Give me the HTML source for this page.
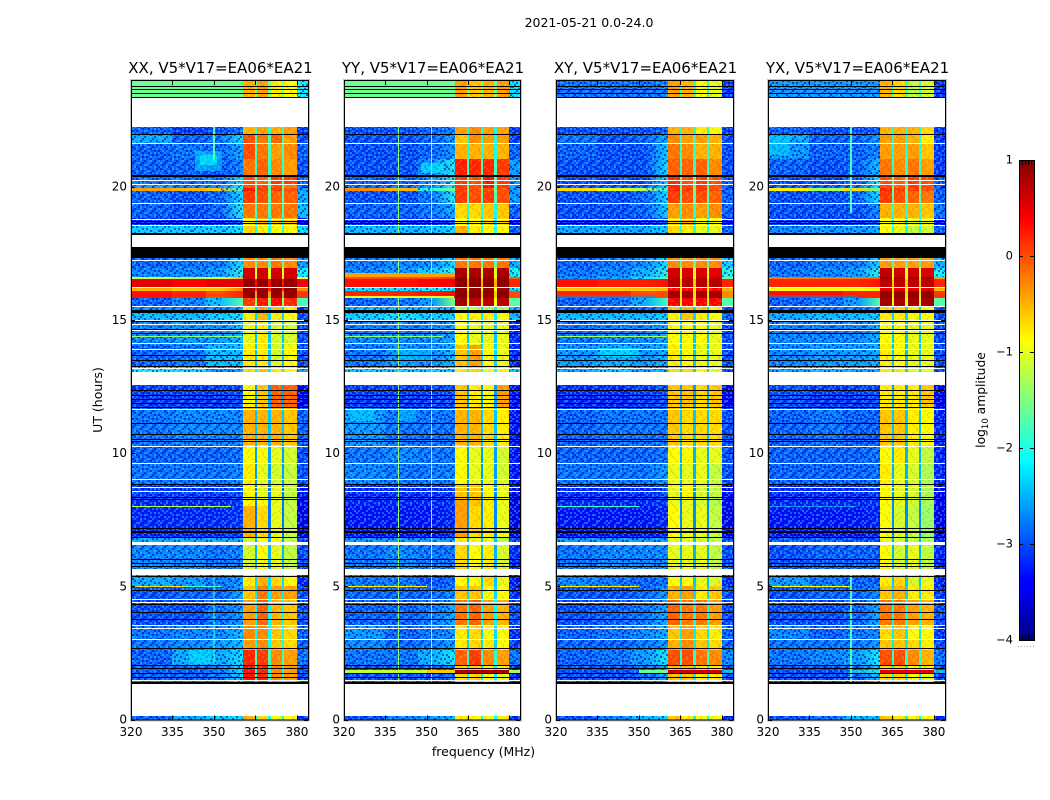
<!DOCTYPE html>
<html lang="en">
<head>
<meta charset="utf-8">
<title>2021-05-21 0.0-24.0</title>
<style>
html,body{margin:0;padding:0;background:#fff}
svg{display:block}
text{font-family:"DejaVu Sans","Liberation Sans",sans-serif;fill:#000}
</style>
</head>
<body>
<svg id="chart" xmlns="http://www.w3.org/2000/svg" width="1050" height="800" viewBox="0 0 1050 800">
<defs id="defs">
<pattern id="speckle" width="32" height="24" patternUnits="userSpaceOnUse"></pattern>
<pattern id="band-texture" width="24" height="16" patternUnits="userSpaceOnUse"></pattern>
<linearGradient id="jet-gradient" x1="0" y1="1" x2="0" y2="0">
<stop offset="0" stop-color="#000080"/><stop offset=".11" stop-color="#0000ff"/><stop offset=".125" stop-color="#0000ff"/>
<stop offset=".375" stop-color="#00ffff"/><stop offset=".625" stop-color="#ffff00"/><stop offset=".875" stop-color="#ff0000"/><stop offset="1" stop-color="#800000"/>
</linearGradient>
</defs>
<text x="589" y="27" font-size="12.5" text-anchor="middle">2021-05-21 0.0-24.0</text>
<text x="483.5" y="756" font-size="12.5" text-anchor="middle">frequency (MHz)</text>
<text font-size="12.5" text-anchor="middle" transform="translate(102,400) rotate(-90)">UT (hours)</text>
<g id="panels"></g>
<g id="colorbar">
<rect x="1019" y="160" width="15" height="480" fill="url(#jet-gradient)"/>
</g>
<text font-size="12.3" text-anchor="middle" transform="translate(985,400) rotate(-90)">log<tspan font-size="8.5" dy="3">10</tspan><tspan dy="-3"> amplitude</tspan></text>
</svg>
<script>
/* UT bin edges (hours) */
var timeEdges = [24,23.34,22.22,21.99,21.65,21.05,20.45,20.08,19.93,19.82,19.37,18.81,18.51,18.24,17.75,17.32,16.93,16.59,16.52,16.25,16.10,15.80,15.50,15.28,14.98,14.04,13.25,13.03,12.54,11.68,10.29,9.62,8.79,8.23,8.0,6.84,6.54,5.64,5.42,5.0,4.48,3.54,2.98,2.6,2.0,1.37,0.13,0];
/* frequency bin edges (MHz) */
var freqEdges = [320,335,347,352.5,360.5,364.7,365.5,369.7,370.5,374.7,375.5,380,384];
/* which value of a row feeds each frequency bin */
var columnSource = [0,1,2,3,4,9,5,9,6,9,7,8];
var G = null, Z = "zero";
/* log10 amplitude per row: low1, low2, low3, transition, band1..band4, edge, notch */
var xxRows = [
[-1.6,-1.6,-1.6,-1.6,-0.5,-0.4,-0.8,-0.9,-2.1,-1.5],G,
[-2.9,-3.1,-3.0,-2.8,-0.5,-0.4,-0.5,-0.4,-3.1,-1.9],
[-2.5,-2.9,-2.8,-2.2,0.0,-0.2,-0.1,-0.4,-3.0,-1.8],
[-2.9,-2.8,-2.9,-2.5,0.0,-0.2,-0.4,-0.3,-2.9,-1.8],
[-2.9,-2.9,-3.0,-2.7,-0.2,-0.1,-0.3,-0.4,-3.0,-1.9],
[-2.8,-2.8,-2.8,-2.2,0.0,-0.1,0.1,0.1,-2.9,-1.7],
[-2.6,-2.8,-2.7,-2.1,0.0,0.0,0.0,-0.2,-2.9,-1.7],
[-0.4,-0.5,-0.6,-1.9,0.3,0.1,0.1,0.0,-2.6,-1.6],
[-2.9,-3.0,-2.9,-2.2,0.1,0.0,-0.1,-0.1,-2.5,-1.7],
[-2.9,-3.0,-2.9,-2.0,-0.2,-0.2,-0.2,-0.2,-2.4,-1.8],
[-3.2,-3.2,-3.2,-2.8,-0.8,-0.5,-0.6,-0.6,-3.4,-2.3],
[-2.3,-2.3,-2.3,-2.2,-0.7,-0.8,-0.9,-0.9,-2.2,-2.0],G,Z,
[-2.9,-2.8,-2.8,-2.2,-0.3,-0.3,-0.2,-0.3,-2.6,-1.7],
[-2.7,-2.7,-2.6,-1.9,0.6,0.6,0.6,0.6,-2.1,-1.0],
[-1.1,-1.3,-1.0,-0.5,0.6,0.6,0.6,0.6,-0.9,-0.8],
[0.5,0.4,0.5,0.5,0.9,0.9,0.9,0.9,0.4,0.3],
[-0.5,-0.6,-0.6,-0.2,0.9,0.9,0.9,0.9,-0.3,0.2],
[0.3,0.2,0.0,0.2,0.9,0.9,0.9,0.9,0.1,-0.4],
[-2.9,-2.7,-2.4,-1.7,0.1,0.3,0.4,0.2,-1.8,-1.4],
[-2.7,-2.8,-2.7,-2.6,-0.8,-0.4,-0.6,-0.8,-3.2,-2.3],
[-2.4,-2.4,-2.3,-2.2,-0.8,-0.5,-0.8,-0.9,-3.0,-2.3],
[-2.7,-2.6,-2.6,-2.4,-1.0,-0.8,-1.1,-1.1,-3.0,-2.4],
[-2.9,-2.8,-2.4,-2.4,-0.8,-0.8,-1.1,-0.9,-3.0,-2.4],
[-2.1,-2.2,-2.6,-2.6,-0.7,-0.6,-0.8,-0.9,-2.6,-2.2],G,
[-3.1,-3.1,-3.1,-3.0,-0.9,-0.6,-0.1,-0.1,-3.4,-2.6],
[-2.8,-2.7,-2.7,-2.7,-0.5,-0.5,-0.5,-0.6,-2.9,-2.4],
[-2.9,-2.9,-2.9,-2.8,-0.9,-0.9,-1.0,-1.1,-3.0,-2.6],
[-2.8,-2.8,-2.8,-2.7,-0.8,-1.0,-1.1,-1.2,-3.0,-2.6],
[-3.1,-3.1,-3.1,-3.0,-0.9,-1.0,-1.0,-1.2,-3.3,-2.8],
[-3.2,-3.2,-3.2,-3.1,-0.9,-0.9,-1.0,-1.2,-3.4,-2.8],
[-3.2,-3.2,-3.2,-3.1,-0.5,-0.7,-1.0,-1.2,-3.5,-2.8],
[-2.5,-2.5,-2.5,-2.5,-1.1,-0.9,-0.9,-1.2,-3.0,-2.5],
[-2.7,-2.7,-2.8,-2.7,-1.1,-0.9,-1.0,-1.2,-3.0,-2.5],G,
[-2.5,-2.6,-2.8,-2.6,-0.8,-0.5,-0.7,-0.9,-3.2,-2.3],
[-3.0,-2.9,-2.9,-2.5,-0.6,-0.2,-0.4,-0.4,-3.0,-2.2],
[-3.0,-3.0,-2.8,-2.6,-0.4,-0.1,-0.5,-0.6,-3.0,-2.1],
[-2.8,-2.7,-2.7,-2.4,-0.3,-0.3,-0.6,-0.7,-2.9,-2.1],
[-2.8,-2.7,-2.6,-2.4,-0.4,-0.3,-0.6,-0.7,-2.9,-2.1],
[-2.9,-2.5,-2.5,-2.2,0.2,0.1,-0.3,-0.4,-2.8,-1.8],
[-2.9,-2.9,-2.8,-2.2,0.3,0.2,-0.3,-0.4,-3.0,-2.0],G,
[-2.9,-2.5,-2.3,-2.2,-0.5,-0.7,-0.9,-0.9,-3.2,-2.0]];
var yyRows = [
[-1.6,-1.6,-1.6,-1.6,-0.4,-0.6,-0.5,-0.4,-2.2,-1.5],G,
[-3.0,-3.0,-2.9,-2.7,-0.4,-0.3,-0.4,-0.4,-3.1,-2.0],
[-3.0,-3.0,-2.9,-2.6,-0.6,-0.3,-0.4,-0.4,-3.1,-2.0],
[-3.0,-3.0,-2.9,-2.6,-0.5,-0.5,-0.5,-0.5,-2.9,-2.0],
[-3.0,-3.0,-2.7,-2.0,0.25,0.2,0.2,0.1,-2.6,-1.8],
[-2.9,-2.9,-2.7,-1.9,0.1,0.0,0.3,0.1,-2.6,-1.7],
[-2.9,-2.9,-2.7,-1.9,0.1,0.0,0.3,0.1,-2.6,-1.7],
[-0.3,-0.5,-1.9,-1.6,0.1,0.0,0.0,0.0,-2.6,-1.6],
[-3.0,-3.0,-2.8,-2.0,0.1,0.0,0.1,0.0,-2.6,-1.7],
[-2.9,-2.9,-2.8,-2.5,-0.7,-0.7,-0.6,-0.6,-2.9,-2.0],
[-3.2,-3.2,-3.2,-3.0,-0.9,-0.8,-0.7,-0.7,-3.4,-2.4],
[-2.4,-2.4,-2.4,-2.2,-0.5,-0.8,-0.9,-0.9,-2.9,-2.0],G,Z,
[-2.8,-2.7,-2.7,-2.2,-0.2,-0.2,-0.2,-0.2,-2.5,-1.7],
[-2.7,-2.6,-2.3,-1.9,0.8,0.8,0.8,0.8,-2.0,-1.0],
[0.0,0.0,0.0,0.1,0.9,0.9,0.9,0.9,-0.1,-0.8],
[0.3,0.3,0.35,0.4,0.95,0.95,0.95,0.95,0.2,-0.5],
[-2.2,-2.2,-2.1,-2.1,0.9,0.9,0.9,0.9,-2.2,-0.9],
[0.2,0.2,0.25,0.3,0.95,0.95,0.95,0.95,0.0,-0.6],
[-2.9,-2.8,-2.6,-1.5,0.8,0.7,0.7,0.7,-1.7,-0.9],
[-2.4,-2.4,-2.4,-2.4,-1.2,-1.2,-1.3,-1.3,-2.4,-2.2],
[-2.3,-2.2,-2.3,-2.3,-0.9,-0.8,-0.8,-0.9,-2.4,-2.2],
[-2.7,-2.7,-2.7,-2.5,-0.9,-1.0,-1.0,-1.0,-3.2,-2.4],
[-2.8,-2.6,-2.7,-2.4,-0.6,-0.4,-0.9,-1.0,-3.2,-2.3],
[-2.3,-2.3,-2.3,-2.3,-0.8,-0.7,-0.9,-0.9,-2.3,-2.1],G,
[-3.1,-3.1,-3.1,-3.0,-0.6,-0.8,-0.9,-0.4,-3.3,-2.6],
[-2.6,-2.8,-2.8,-2.8,-0.5,-0.5,-0.7,-0.8,-3.3,-2.4],
[-2.8,-2.7,-2.8,-2.8,-0.9,-1.0,-1.0,-1.1,-3.3,-2.6],
[-2.7,-2.8,-2.8,-2.7,-0.9,-1.0,-1.0,-1.1,-3.3,-2.6],
[-3.2,-3.2,-3.2,-3.1,-0.6,-0.6,-0.9,-1.0,-3.5,-2.7],
[-3.2,-3.2,-3.2,-3.1,-0.4,-0.6,-0.8,-1.0,-3.5,-2.7],
[-3.3,-3.3,-3.3,-3.2,-0.4,-0.7,-0.8,-1.0,-3.5,-2.7],
[-2.6,-2.6,-2.6,-2.6,-0.8,-1.0,-1.0,-1.2,-3.0,-2.4],
[-2.8,-2.7,-2.8,-2.8,-0.7,-0.9,-0.8,-1.1,-3.2,-2.5],G,
[-2.8,-2.8,-3.0,-2.9,-0.9,-0.9,-0.7,-1.0,-3.3,-2.4],
[-2.9,-2.9,-2.9,-2.7,-0.6,-0.6,-0.9,-0.9,-3.2,-2.3],
[-2.9,-2.9,-2.8,-2.5,-0.2,-0.1,-0.4,-0.5,-3.0,-2.1],
[-2.6,-2.9,-2.8,-2.6,-0.8,-0.7,-0.9,-0.9,-3.2,-2.3],
[-2.7,-2.9,-2.8,-2.6,-0.8,-0.7,-0.8,-0.9,-3.1,-2.3],
[-2.8,-2.8,-2.5,-2.1,-0.1,0.1,-0.3,-0.4,-2.8,-1.9],
[-3.0,-3.0,-3.0,-2.8,-0.7,-0.7,-0.9,-1.0,-3.2,-2.2],G,
[-3.0,-2.7,-2.6,-2.4,-0.8,-0.9,-0.9,-0.8,-3.2,-2.1]];
var xyRows = [
[-2.8,-2.8,-2.8,-2.7,-0.4,-0.5,-0.9,-1.0,-3.1,-1.9],G,
[-3.0,-3.0,-3.0,-2.9,-0.5,-0.5,-0.8,-0.9,-3.1,-2.0],
[-2.8,-3.0,-2.9,-2.5,-0.3,-0.4,-0.4,-0.5,-3.0,-1.9],
[-2.9,-3.0,-3.0,-2.3,-0.2,-0.3,-0.5,-0.5,-3.0,-1.9],
[-3.0,-3.0,-3.0,-2.2,-0.1,-0.1,-0.1,-0.3,-3.0,-1.9],
[-3.0,-3.0,-3.0,-2.2,0.2,0.0,0.1,0.0,-2.9,-1.7],
[-3.0,-3.0,-3.0,-2.2,0.2,0.0,0.1,0.0,-2.9,-1.7],
[-0.7,-1.0,-1.2,-2.0,0.2,0.1,0.1,0.0,-2.9,-1.6],
[-3.0,-3.0,-2.9,-2.2,0.1,0.0,0.0,-0.1,-2.9,-1.7],
[-3.0,-3.0,-2.9,-2.3,-0.4,-0.3,-0.4,-0.3,-2.9,-1.9],
[-3.2,-3.2,-3.2,-2.9,-0.7,-0.5,-0.9,-0.9,-3.3,-2.3],
[-2.5,-2.5,-2.5,-2.3,-0.7,-0.8,-1.0,-1.0,-2.9,-2.0],G,Z,
[-2.9,-2.8,-2.7,-2.2,-0.3,-0.3,-0.3,-0.3,-2.3,-1.8],
[-2.8,-2.7,-2.5,-1.9,0.6,0.55,0.55,0.5,-1.9,-1.0],
[-2.6,-2.5,-2.2,-1.8,0.7,0.7,0.7,0.7,-1.6,-0.9],
[0.3,0.25,0.25,0.3,0.75,0.75,0.75,0.75,0.2,-0.6],
[-0.6,-0.6,-0.6,-0.5,0.4,0.4,0.4,0.4,-0.5,-0.8],
[0.2,0.2,0.0,0.0,0.85,0.85,0.85,0.85,-0.3,-0.7],
[-2.9,-2.8,-2.5,-1.8,0.4,0.4,0.4,0.4,-1.7,-1.2],
[-2.9,-2.9,-2.9,-2.8,-0.6,-0.5,-0.6,-0.8,-3.0,-2.3],
[-2.4,-2.4,-2.4,-2.3,-0.8,-0.6,-0.8,-0.9,-2.9,-2.3],
[-2.8,-2.7,-2.7,-2.5,-0.9,-0.9,-0.9,-1.0,-3.0,-2.4],
[-2.6,-2.5,-2.6,-2.5,-0.8,-0.9,-1.0,-1.0,-3.0,-2.4],
[-2.5,-2.3,-2.5,-2.5,-0.7,-0.7,-0.9,-1.0,-3.0,-2.3],G,
[-3.2,-3.2,-3.1,-3.0,-0.6,-0.6,-0.7,-0.6,-3.4,-2.6],
[-2.9,-2.8,-2.8,-2.8,-0.6,-0.7,-0.7,-0.7,-3.0,-2.4],
[-2.9,-2.9,-2.9,-2.8,-0.9,-0.9,-1.0,-1.0,-3.0,-2.5],
[-2.8,-2.8,-2.8,-2.6,-1.0,-1.0,-1.0,-1.2,-3.0,-2.5],
[-3.2,-3.2,-3.2,-3.0,-1.0,-0.9,-1.1,-1.2,-3.4,-2.7],
[-3.2,-3.2,-3.2,-3.1,-1.0,-1.0,-1.1,-1.3,-3.4,-2.7],
[-3.3,-3.3,-3.3,-3.2,-0.9,-1.0,-1.0,-1.2,-3.5,-2.7],
[-2.6,-2.6,-2.6,-2.6,-1.0,-1.0,-1.1,-1.2,-3.0,-2.4],
[-2.8,-2.7,-2.7,-2.7,-1.0,-1.0,-1.0,-1.2,-3.0,-2.5],G,
[-2.7,-2.8,-2.9,-2.8,-0.9,-0.9,-1.0,-1.1,-3.2,-2.4],
[-3.0,-3.0,-2.9,-2.6,-0.5,-0.4,-0.8,-0.6,-3.0,-2.3],
[-3.0,-2.9,-2.8,-2.5,-0.1,-0.2,-0.2,-0.4,-3.0,-2.1],
[-2.9,-2.8,-2.7,-2.5,-0.6,-0.4,-0.7,-0.8,-2.9,-2.2],
[-2.9,-2.9,-2.8,-2.6,-0.5,-0.3,-0.6,-0.7,-2.9,-2.2],
[-2.9,-2.8,-2.6,-2.1,0.0,0.0,-0.2,-0.3,-2.7,-1.9],
[-3.0,-3.0,-2.9,-2.5,-0.6,-0.6,-0.8,-0.8,-3.0,-2.2],G,
[-3.0,-2.7,-2.4,-2.3,-0.6,-0.8,-0.9,-0.9,-3.2,-2.1]];
var yxRows = [
[-2.6,-2.6,-2.6,-2.6,-0.5,-0.7,-1.2,-1.1,-3.1,-1.9],G,
[-2.9,-3.0,-3.0,-2.9,-0.5,-0.5,-0.5,-0.7,-3.1,-2.0],
[-2.5,-2.9,-2.9,-2.6,-0.4,-0.4,-0.5,-0.8,-3.1,-2.0],
[-2.6,-2.9,-2.9,-2.7,-0.4,-0.4,-0.4,-0.6,-3.1,-2.0],
[-2.9,-3.0,-2.9,-2.4,-0.2,-0.3,-0.2,-0.4,-3.1,-1.9],
[-3.0,-3.0,-2.9,-2.1,0.0,-0.1,0.1,0.0,-3.0,-1.7],
[-3.0,-3.0,-2.9,-2.1,0.0,-0.1,0.1,0.0,-3.0,-1.7],
[-0.8,-1.3,-0.7,-1.7,0.2,0.1,0.1,0.0,-2.9,-1.6],
[-3.0,-3.0,-2.9,-2.2,0.1,0.0,-0.1,-0.2,-2.9,-1.7],
[-3.0,-3.0,-3.0,-2.7,-0.5,-0.5,-0.5,-0.6,-2.8,-1.9],
[-3.1,-3.1,-3.1,-2.9,-0.9,-0.8,-1.0,-1.0,-3.3,-2.3],
[-2.7,-2.6,-2.6,-2.5,-0.9,-1.0,-1.2,-1.1,-2.9,-2.0],G,Z,
[-2.9,-2.8,-2.8,-2.3,-0.4,-0.4,-0.4,-0.4,-2.5,-1.8],
[-2.8,-2.7,-2.6,-1.9,0.7,0.6,0.6,0.55,-2.0,-1.0],
[-0.2,-0.2,-0.2,-0.1,0.85,0.85,0.85,0.85,-0.4,-0.8],
[0.2,0.2,0.2,0.3,0.7,0.7,0.7,0.7,0.2,-0.6],
[-0.9,-0.9,-0.9,-0.8,0.5,0.5,0.5,0.5,-0.5,-0.8],
[0.3,0.3,0.2,0.2,0.9,0.9,0.9,0.9,0.1,-0.7],
[-2.9,-2.8,-2.6,-1.7,0.8,0.8,0.8,0.8,-1.7,-1.0],
[-2.9,-2.8,-2.8,-2.7,-0.7,-0.7,-0.8,-0.9,-3.0,-2.3],
[-2.5,-2.4,-2.4,-2.3,-0.8,-0.8,-0.9,-0.9,-3.0,-2.3],
[-2.7,-2.7,-2.7,-2.5,-0.9,-0.9,-1.0,-1.0,-3.0,-2.4],
[-2.7,-2.6,-2.6,-2.5,-0.8,-0.9,-1.0,-1.0,-3.0,-2.4],
[-2.5,-2.4,-2.5,-2.5,-0.8,-0.8,-1.0,-1.0,-3.0,-2.3],G,
[-3.0,-3.1,-3.1,-3.0,-0.8,-0.8,-0.8,-0.6,-3.4,-2.6],
[-2.9,-2.8,-2.9,-2.9,-0.6,-0.6,-0.8,-0.9,-3.2,-2.4],
[-2.9,-2.9,-2.9,-2.8,-0.9,-0.8,-1.0,-1.2,-3.2,-2.5],
[-2.9,-2.9,-2.9,-2.8,-0.8,-1.0,-1.1,-1.3,-3.2,-2.5],
[-3.2,-3.2,-3.2,-3.1,-0.9,-1.0,-1.1,-1.3,-3.4,-2.7],
[-3.2,-3.2,-3.2,-3.1,-0.9,-1.0,-1.1,-1.3,-3.4,-2.7],
[-3.3,-3.3,-3.3,-3.2,-0.9,-1.1,-1.2,-1.4,-3.5,-2.7],
[-2.9,-2.9,-3.0,-3.0,-1.0,-1.1,-1.2,-1.3,-3.2,-2.5],
[-3.0,-2.9,-2.9,-2.9,-0.9,-1.1,-1.0,-1.2,-3.2,-2.5],G,
[-2.6,-2.8,-2.9,-2.9,-0.8,-0.7,-1.1,-1.0,-3.2,-2.4],
[-3.0,-2.9,-2.9,-2.7,-0.6,-0.5,-0.8,-0.8,-3.1,-2.3],
[-3.0,-3.0,-2.9,-2.5,-0.2,-0.2,-0.4,-0.5,-3.0,-2.1],
[-2.7,-2.9,-2.8,-2.7,-0.7,-0.6,-0.9,-0.9,-3.1,-2.2],
[-2.8,-2.8,-2.8,-2.6,-0.6,-0.6,-0.7,-0.8,-3.0,-2.2],
[-2.8,-2.7,-2.6,-2.1,0.0,0.0,-0.3,-0.5,-2.8,-1.9],
[-3.0,-3.0,-2.9,-2.3,-0.7,-0.7,-0.9,-1.0,-3.0,-2.2],G,
[-3.0,-2.8,-2.4,-2.4,-0.6,-0.8,-0.9,-0.9,-3.2,-2.1]];
/* localized features: hourTop, hourBottom, freqLow, freqHigh, log10 amplitude */
var xxFeatures = [[21.35,20.6,343,353,-2.3],[21.2,20.8,345,351,-2.1],[2.6,2.1,341,349,-2.2],[22.22,21.0,349.8,350.3,-1.7],[5.42,2.1,349.8,350.3,-1.9],[15.52,15.47,320,360,-1.0],[14.4,14.36,320,360,-1.4],[8.03,7.99,320,356,-1.2],[5.01,4.97,320,340,-0.7],[5.01,4.97,340,353,-1.8]];
var yyFeatures = [[22.22,16.6,339.7,340.1,-1.4],[22.22,16.6,351.7,352.1,-1.4],[15.8,0.15,339.7,340.1,-1.4],[15.8,0.15,351.7,352.1,-1.4],[11.6,11.2,322,331,-2.3],[11.6,11.2,340,346,-2.4],[16.75,16.59,320,360.5,-0.4],[15.9,15.8,320,360,-1.0],[5.01,4.97,320,350,-0.8],[1.87,1.76,320,350,-1.2],[1.87,1.76,350,360.5,-0.6],[1.87,1.76,360.5,380,0.8],[1.87,1.76,380,384,-1.3],[14.4,14.36,320,356,-1.4],[13.9,13.4,340,352,-2.4],[20.9,20.5,348,356,-2.1]];
var xyFeatures = [[15.92,15.8,320,356,-2.7],[1.87,1.76,350,360.5,-1.6],[1.87,1.76,360.5,380,0.6],[1.87,1.76,380,384,-1.9],[5.01,4.97,320,350,-0.8],[8.03,7.99,320,350,-1.8],[14.4,14.36,320,360,-1.3],[13.95,13.6,336,350,-2.2]];
var yxFeatures = [[15.92,15.8,320,352,-2.7],[5.01,4.97,320,350,-0.9],[1.87,1.76,350,360.5,-1.9],[1.87,1.76,360.5,380,0.5],[1.87,1.76,380,384,-1.9],[21.9,21.2,320,328,-2.3],[22.22,19,349.8,350.3,-1.8],[5.42,1.4,349.8,350.3,-1.8],[8.03,7.99,320,352,-2.0]];
/* flagged integrations shared by all correlations (UT hours) */
var whiteLineHours = [21.64,20.26,20.10,19.38,18.79,18.57,17.23,16.23,15.50,14.98,14.86,14.60,14.14,13.92,13.21,11.88,11.67,10.28,9.63,9.03,8.72,8.58,6.66,6.62,6.58,4.54,4.42,3.54,3.42,3.01,1.48];
var blackLineHours = [23.79,23.67,23.52,23.35,21.98,20.44,20.41,18.70,18.65,18.26,18.23,15.35,15.32,15.29,14.96,14.67,14.50,13.67,13.48,13.28,13.25,12.35,12.17,12.01,11.86,11.73,11.11,10.73,10.54,10.45,8.83,8.35,8.26,7.19,7.08,7.02,6.85,6.01,5.86,5.77,5.38,4.86,4.33,4.04,3.77,2.67,2.04,1.92,1.75,1.60,1.40,1.38];
/* axes */
var panelTitles = ["XX, V5*V17=EA06*EA21","YY, V5*V17=EA06*EA21","XY, V5*V17=EA06*EA21","YX, V5*V17=EA06*EA21"];
var panelKeys = ["xx","yy","xy","yx"];
var freqTicks = [320,335,350,365,380];
var hourTicks = [0,5,10,15,20];
var colorTicks = [1,0,-1,-2,-3,-4];
var panelRows = [xxRows,yyRows,xyRows,yxRows];
var panelFeatures = [xxFeatures,yyFeatures,xyFeatures,yxFeatures];
/* decorative receiver-noise texture (not data) */
var noiseTile = ["d.l..dc.l.d..ld.",".ld.c..d.lc.d..l","l..dl.d.c..dl.c.",".c.l.d.ld.l..d.d","d.l..c.d..dl.c.l","l.d.d.l.cl..d.d.",".dc.l..d.d.c.l.l","d..l.dc.l..dl..d",".l.d..l.d.lc.d.c","c.d.lc.d..l.d.l.",".d.l..d.lc.d..dl","l..cd.l..d.l.c.d"];
var bandTile = ["r.y..r.yr..y",".y..r..y..r.","y..r.yr..y.r","..y..r..y..r","r..yr..y.r..",".r..y.r...y.","y.r...y.r..y","..r.y..r.y.."];
var tileColors = {d:["#0000c8",0.6],l:["#2c9cff",0.55],c:["#30d8ff",0.5],r:["#ff2000",0.13],y:["#ffff50",0.14]};

var NS = "http://www.w3.org/2000/svg";
var panelLeft = [131,344,556,768], panelWidth = [177,176,177,177], axTop = 80, axBottom = 719.5;
function xScale(p, f){ return panelLeft[p] + (f - 320) * panelWidth[p] / 64; }
function yScale(h){ return axBottom - h * (axBottom - axTop) / 24; }
function cScale(v){ return 640 - (v + 4) * 96; }
function jetChannel(x){ return Math.max(0, Math.min(1, 1.5 - Math.abs(x))); }
function jet(v){
  var t = Math.max(0, Math.min(1, (v + 4) / 5));
  var r = jetChannel(4 * t - 3), g = jetChannel(4 * t - 2), b = jetChannel(4 * t - 1);
  return "rgb(" + Math.round(r * 255) + "," + Math.round(g * 255) + "," + Math.round(b * 255) + ")";
}
function rect(parent, x0, x1, y0, y1, fill){
  var r = document.createElementNS(NS, "rect");
  var a = Math.round(x0), b = Math.round(x1), c = Math.round(y0), d = Math.round(y1);
  r.setAttribute("x", a);
  r.setAttribute("y", c);
  r.setAttribute("width", Math.max(1, b - a));
  r.setAttribute("height", Math.max(1, d - c));
  r.setAttribute("fill", fill);
  r.setAttribute("shape-rendering", "crispEdges");
  parent.appendChild(r);
  return r;
}
function fillTile(id, tile){
  var pat = document.getElementById(id);
  tile.forEach(function(rowStr, j){
    for (var i = 0; i < rowStr.length; i++) {
      var spec = tileColors[rowStr.charAt(i)];
      if (!spec) continue;
      var t = rect(pat, i * 2, i * 2 + 2, j * 2, j * 2 + 2, spec[0]);
      t.setAttribute("opacity", spec[1]);
    }
  });
}
fillTile("speckle", noiseTile);
fillTile("band-texture", bandTile);
function line(parent, x1, y1, x2, y2, color){
  var l = document.createElementNS(NS, "line");
  l.setAttribute("x1", x1);
  l.setAttribute("y1", y1);
  l.setAttribute("x2", x2);
  l.setAttribute("y2", y2);
  l.setAttribute("stroke", color);
  l.setAttribute("stroke-width", 1);
  l.setAttribute("shape-rendering", "crispEdges");
  parent.appendChild(l);
  return l;
}
function label(parent, x, y, str, size, anchor){
  var t = document.createElementNS(NS, "text");
  t.setAttribute("x", x);
  t.setAttribute("y", y);
  t.setAttribute("font-size", size);
  t.setAttribute("text-anchor", anchor);
  t.textContent = str;
  parent.appendChild(t);
  return t;
}
var defs = document.getElementById("defs");
function rowGradient(id, fromValue, toValue){
  var lg = document.createElementNS(NS, "linearGradient");
  lg.setAttribute("id", id);
  var s0 = document.createElementNS(NS, "stop");
  s0.setAttribute("offset", "0");
  s0.setAttribute("stop-color", jet(fromValue));
  lg.appendChild(s0);
  var s1 = document.createElementNS(NS, "stop");
  s1.setAttribute("offset", "1");
  s1.setAttribute("stop-color", jet(toValue));
  lg.appendChild(s1);
  defs.appendChild(lg);
  return "url(#" + id + ")";
}
var root = document.getElementById("panels");
panelTitles.forEach(function(title, p){
  var g = document.createElementNS(NS, "g");
  
  
  root.appendChild(g);
  var rows = panelRows[p];
  /* heatmap cells */
  rows.forEach(function(row, i){
    if (row === null || row === "zero") return;
    var yTop = yScale(timeEdges[i]), yBot = yScale(timeEdges[i + 1]);
    columnSource.forEach(function(src, c){
      var fill = (src === 3) ? rowGradient("tr-" + p + "-" + i, row[2], row[3]) : jet(row[src]);
      var cell = rect(g, xScale(p, freqEdges[c]), xScale(p, freqEdges[c + 1]), yTop, yBot, fill);
      
      
      if (src === 9) return;
      var isBand = src >= 4 && src <= 7;
      if (isBand) {
        if (row[src] < 0.5) {
          var bt = rect(g, xScale(p, freqEdges[c]), xScale(p, freqEdges[c + 1]), yTop, yBot, "url(#band-texture)");
          
          
        }
      } else if (row[src] < -1.8) {
        var s = rect(g, xScale(p, freqEdges[c]), xScale(p, freqEdges[c + 1]), yTop, yBot, "url(#speckle)");
        
        
      }
    });
  });
  /* localized features */
  panelFeatures[p].forEach(function(ft){
    var f = rect(g, xScale(p, ft[2]), xScale(p, ft[3]), yScale(ft[0]), yScale(ft[1]), jet(ft[4]));
    if (ft[4] < -1.8) f.setAttribute("fill-opacity", ".55");
    
    
  });
  /* flagged and zero blocks */
  rows.forEach(function(row, i){
    if (row !== null && row !== "zero") return;
    var block = rect(g, xScale(p, 320), xScale(p, 384), yScale(timeEdges[i]), yScale(timeEdges[i + 1]), row === null ? "#fff" : "#000");
    
    
  });
  /* flagged lines */
  whiteLineHours.forEach(function(h){
    var y = Math.round(yScale(h));
    var w = rect(g, xScale(p, 320), xScale(p, 384), y, y + 1, "#fff");
    
    
  });
  blackLineHours.forEach(function(h){
    var y = Math.round(yScale(h));
    var k = rect(g, xScale(p, 320), xScale(p, 384), y, y + 1, "#000");
    
    
  });
  /* frame */
  var L = panelLeft[p], R = L + panelWidth[p];
  var outer = document.createElementNS(NS, "rect");
  outer.setAttribute("x", L - 0.5);
  outer.setAttribute("y", axTop - 0.5);
  outer.setAttribute("width", panelWidth[p] + 2);
  outer.setAttribute("height", axBottom - axTop + 2);
  outer.setAttribute("fill", "none");
  outer.setAttribute("stroke", "#c4c4c4");
  
  
  g.appendChild(outer);
  var frame = document.createElementNS(NS, "rect");
  frame.setAttribute("x", L + 0.5);
  frame.setAttribute("y", axTop + 0.5);
  frame.setAttribute("width", panelWidth[p]);
  frame.setAttribute("height", axBottom - axTop);
  frame.setAttribute("fill", "none");
  frame.setAttribute("stroke", "#000");
  
  
  g.appendChild(frame);
  /* ticks */
  freqTicks.forEach(function(f){
    var x = Math.round(xScale(p, f)) + 0.5;
    var t1 = line(g, x, axBottom, x, axBottom - 4, "#000");
    
    
    var t2 = line(g, x, axTop, x, axTop + 5, "#000");
    
    
    var tl = label(g, xScale(p, f), 736, String(f), 12, "middle");
    
    
  });
  hourTicks.forEach(function(h){
    var y = Math.round(yScale(h)) + 0.5;
    var t1 = line(g, L, y, L + 4, y, "#000");
    
    
    var t2 = line(g, R, y, R - 4, y, "#000");
    
    
    var tl = label(g, L - 4, yScale(h) + 4, String(h), 12, "end");
    
    
  });
  var ttl = label(g, L + panelWidth[p] / 2 + 1, 73, title, 15, "middle");
  
  
});
/* colorbar furniture */
var cb = document.getElementById("colorbar");
var cbFrame = document.createElementNS(NS, "rect");
cbFrame.setAttribute("x", 1019.5);
cbFrame.setAttribute("y", 160.5);
cbFrame.setAttribute("width", 15);
cbFrame.setAttribute("height", 480);
cbFrame.setAttribute("fill", "none");
cbFrame.setAttribute("stroke", "#000");


cb.appendChild(cbFrame);
colorTicks.forEach(function(v){
  var y = Math.round(cScale(v)) + 0.5;
  var a = line(cb, 1019, y, 1023, y, "#000");
  
  
  var b = line(cb, 1034, y, 1030, y, "#000");
  
  
  var t = label(cb, 1013, cScale(v) + 3.5, (v < 0 ? "\u2212" + Math.abs(v) : String(v)), 11.5, "end");
  
  
});
[1022.5,1025.5,1028.5,1031.5].forEach(function(x){
  var a = line(cb, x, 160, x, 165, "#000");
  
  
  var b = line(cb, x, 640, x, 635, "#000");
  
  
});
[1018,1021,1024,1027,1030,1033].forEach(function(x){
  var d = rect(cb, x, x + 1, 646, 647, "#aaa");
  
  
});
</script>
</body>
</html>
